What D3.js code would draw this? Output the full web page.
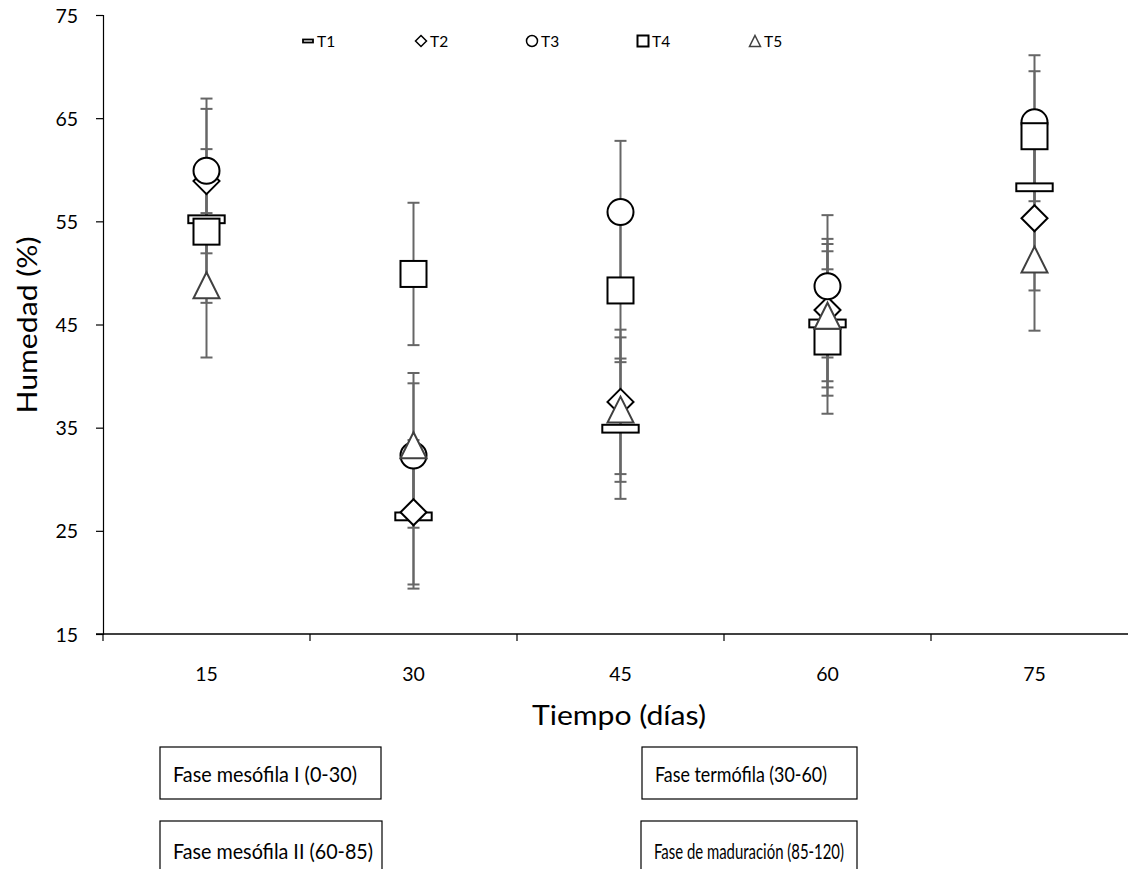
<!DOCTYPE html>
<html><head><meta charset="utf-8">
<script src="https://cdn.jsdelivr.net/npm/d3@7"></script>
<style>body{margin:0;background:#fff}svg{display:block}text{font-family:Lato,"Liberation Sans",sans-serif;fill:#000}</style>
</head><body>
<svg id="c" width="1128" height="869"></svg>
<script>
const days = ["15","30","45","60","75"];
const seriesNames = ["T1","T2","T3","T4","T5"];
const T1 = [55.2, 26.4, 34.9, 45.1, 58.3];
const T2 = [58.9, 26.8, 37.5, 46.4, 55.3];
const T3 = [59.9, 32.3, 55.9, 48.7, 64.6];
const T4 = [54.0, 49.9, 48.3, 43.35, 63.25];
const T5 = [48.8, 33.3, 36.75, 45.85, 51.3];
const errT1 = [6.8, 7.0, 6.8, 7.0, 7.0];
const errT2 = [7.0, 7.0, 7.0, 6.9, 7.0];
const errT3 = [7.0, 7.0, 6.9, 6.9, 6.5];
const errT4 = [6.9, 6.9, 6.95, 7.0, 6.3];
const errT5 = [7.0, 7.0, 7.0, 6.95, 6.9];
const yTicks = [15, 25, 35, 45, 55, 65, 75];
const phases = ["Fase mesófila I (0-30)", "Fase termófila (30-60)", "Fase mesófila II (60-85)", "Fase de maduración (85-120)"];

const values = [T1, T2, T3, T4, T5];
const errs = [errT1, errT2, errT3, errT4, errT5];
const shapes = ["bar", "diamond", "circle", "square", "triangle"];

const svg = d3.select("#c");
const x = d3.scaleBand().domain(days).range([103, 1138]).padding(0);
const y = d3.scaleLinear().domain([15, 75]).range([634, 15]);

// axes
const yAxis = svg.append("g").attr("transform", "translate(103,0)")
  .call(d3.axisLeft(y).tickValues(yTicks).tickSize(7).tickPadding(18).tickFormat(d3.format("d")));
yAxis.select(".domain").attr("stroke", "#000").attr("stroke-width", 1.2);
yAxis.selectAll(".tick line").attr("stroke", "#000").attr("stroke-width", 1.2);
yAxis.selectAll(".tick text").style("font-size", "19.5px").attr("dy", "0.36em");

const xAxis = svg.append("g").attr("transform", "translate(0,634)")
  .call(d3.axisBottom(x).tickSize(0).tickPadding(33));
xAxis.select(".domain").remove();
xAxis.selectAll(".tick text").style("font-size", "19.5px");
svg.append("line").attr("x1", 96).attr("x2", 1128).attr("y1", 634).attr("y2", 634)
  .attr("stroke", "#000").attr("stroke-width", 1.5);
const bounds = days.map(d => x(d));
svg.selectAll(".xt").data(bounds).enter().append("line")
  .attr("x1", d => d).attr("x2", d => d).attr("y1", 634).attr("y2", 641)
  .attr("stroke", "#000").attr("stroke-width", 1.2);

svg.append("text").attr("x", 619).attr("y", 725).attr("text-anchor", "middle")
  .attr("textLength", 174).attr("lengthAdjust", "spacingAndGlyphs")
  .style("font-size", "27px").text("Tiempo (días)");
svg.append("text").attr("transform", "translate(37,325) rotate(-90)").attr("text-anchor", "middle")
  .attr("textLength", 177).attr("lengthAdjust", "spacingAndGlyphs")
  .style("font-size", "27px").text("Humedad (%)");

// error bars
const eg = svg.append("g");
values.forEach((vals, si) => {
  vals.forEach((v, i) => {
    const cx = x(days[i]) + x.bandwidth() / 2;
    const e = errs[si][i];
    const y1 = y(v + e), y2 = y(v - e);
    eg.append("line").attr("x1", cx).attr("x2", cx).attr("y1", y1).attr("y2", y2)
      .attr("stroke", "#666").attr("stroke-width", 2);
    [y1, y2].forEach(yy => eg.append("line").attr("x1", cx - 6).attr("x2", cx + 6)
      .attr("y1", yy).attr("y2", yy).attr("stroke", "#666").attr("stroke-width", 2));
  });
});

function drawShape(g, shape, cx, cy, s) {
  const h = s / 2;
  if (shape === "bar") {
    g.append("rect").attr("x", cx - s * 0.7).attr("y", cy - s * 0.15).attr("width", s * 1.4).attr("height", s * 0.3)
      .attr("fill", "#fff").attr("stroke", "#000").attr("stroke-width", 2);
  } else if (shape === "diamond") {
    g.append("path").attr("d", `M${cx},${cy - h}L${cx + h},${cy}L${cx},${cy + h}L${cx - h},${cy}Z`)
      .attr("fill", "#fff").attr("stroke", "#000").attr("stroke-width", 2);
  } else if (shape === "circle") {
    g.append("circle").attr("cx", cx).attr("cy", cy).attr("r", h)
      .attr("fill", "#fff").attr("stroke", "#000").attr("stroke-width", 2);
  } else if (shape === "square") {
    g.append("rect").attr("x", cx - h).attr("y", cy - h).attr("width", s).attr("height", s)
      .attr("fill", "#fff").attr("stroke", "#000").attr("stroke-width", 2);
  } else {
    g.append("path").attr("d", `M${cx},${cy - h}L${cx + h},${cy + h}L${cx - h},${cy + h}Z`)
      .attr("fill", "#fff").attr("stroke", "#404040").attr("stroke-width", 2);
  }
}

const mg = svg.append("g");
values.forEach((vals, si) => {
  vals.forEach((v, i) => {
    const cx = x(days[i]) + x.bandwidth() / 2;
    drawShape(mg, shapes[si], cx, y(v), 26);
  });
});

// legend
const legX = [308, 421, 532, 643, 755];
const lg = svg.append("g");
seriesNames.forEach((n, i) => {
  if (shapes[i] === "bar") {
    lg.append("rect").attr("x", legX[i] - 5).attr("y", 39.5).attr("width", 10).attr("height", 3)
      .attr("fill", "#fff").attr("stroke", "#000").attr("stroke-width", 1.8);
  } else {
    drawShape(lg, shapes[i], legX[i], 41, 11);
  }
  lg.append("text").attr("x", legX[i] + 9).attr("y", 46.5).style("font-size", "15.5px").text(n);
});
lg.selectAll("path,circle").attr("stroke-width", 1.5);

// phase boxes
const boxes = [
  {x: 160, y: 747, w: 221, h: 52, tw: 184, ty: 782},
  {x: 642, y: 747, w: 215, h: 52, tw: 172, ty: 782},
  {x: 160, y: 821, w: 222, h: 60, tw: 200, ty: 859},
  {x: 641, y: 821, w: 216, h: 60, tw: 190, ty: 859}
];
phases.forEach((p, i) => {
  const b = boxes[i];
  svg.append("rect").attr("x", b.x).attr("y", b.y).attr("width", b.w).attr("height", b.h)
    .attr("fill", "#fff").attr("stroke", "#000").attr("stroke-width", 1.2);
  svg.append("text").attr("x", b.x + 13).attr("y", b.ty).style("font-size", "21px")
    .attr("textLength", b.tw).attr("lengthAdjust", "spacingAndGlyphs").text(p);
});
</script>
</body></html>
